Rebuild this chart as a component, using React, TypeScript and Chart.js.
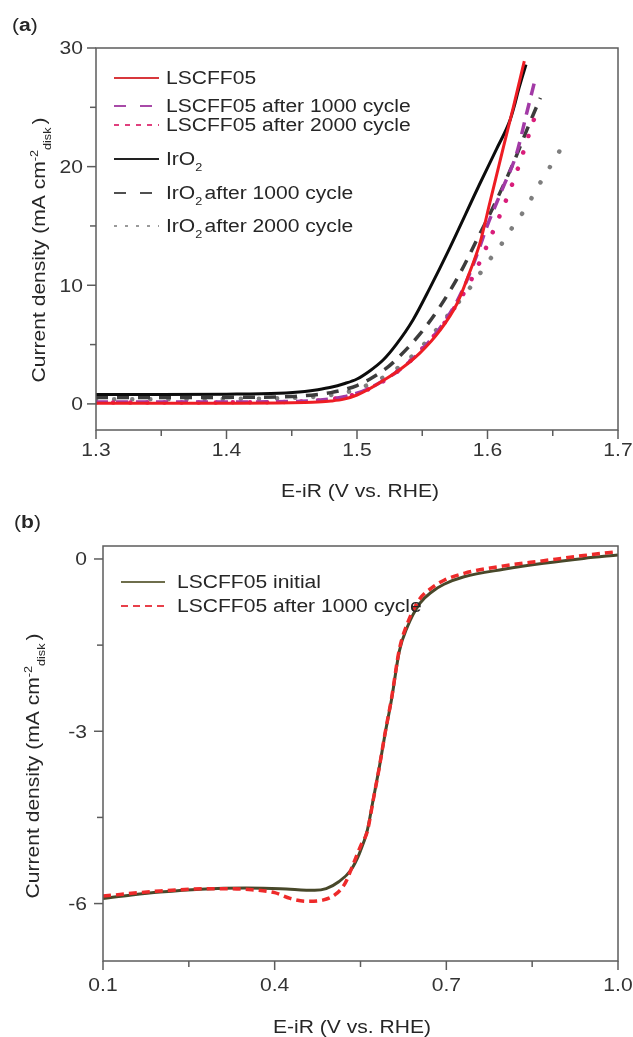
import React, { useEffect, useRef } from 'react';
import { Chart, registerables } from 'chart.js';

Chart.register(...registerables);

// ---------- Panel (a): OER polarization curves ----------
const lscffV = [1.3, 1.35, 1.4, 1.44, 1.46, 1.47, 1.48, 1.49, 1.5, 1.51, 1.5176, 1.533, 1.5483, 1.5636, 1.5764, 1.5853, 1.5943, 1.6019, 1.6121, 1.62, 1.6282];
const lscffJ = [0.05, 0.05, 0.06, 0.08, 0.12, 0.16, 0.24, 0.4, 0.75, 1.3, 1.8, 2.9, 4.3, 6.2, 8.4, 10.8, 13.6, 17.0, 21.6, 25.1, 28.9];

const lscff1000V = [1.3, 1.35, 1.4, 1.45, 1.47, 1.48, 1.49, 1.5, 1.51, 1.52, 1.533, 1.5483, 1.5636, 1.5764, 1.5853, 1.5943, 1.5994, 1.6121, 1.6223, 1.63, 1.6364];
const lscff1000J = [0.15, 0.15, 0.16, 0.2, 0.3, 0.42, 0.6, 0.9, 1.35, 1.95, 2.9, 4.4, 6.4, 8.6, 10.7, 13.3, 14.9, 18.3, 21.1, 24.5, 27.3];

const lscff2000V = [1.3, 1.35, 1.4, 1.45, 1.47, 1.48, 1.49, 1.5, 1.51, 1.52, 1.5406, 1.556, 1.5636, 1.5764, 1.5853, 1.593, 1.6045, 1.6147, 1.6241, 1.6326, 1.6375];
const lscff2000J = [0.12, 0.12, 0.13, 0.18, 0.28, 0.4, 0.58, 0.85, 1.3, 1.9, 3.6, 5.4, 6.3, 8.4, 10.0, 11.7, 14.6, 17.3, 20.1, 23.0, 24.6];

const iro2V = [1.3, 1.35, 1.4, 1.44, 1.46, 1.47, 1.48, 1.49, 1.5, 1.51, 1.52, 1.53, 1.543, 1.556, 1.57, 1.5943, 1.607, 1.6172, 1.621, 1.6236, 1.6295];
const iro2J = [0.8, 0.8, 0.82, 0.9, 1.05, 1.2, 1.4, 1.7, 2.1, 2.8, 3.7, 5.0, 7.1, 9.8, 12.9, 18.6, 21.5, 23.9, 25.3, 26.4, 28.6];

const iro21000V = [1.3, 1.35, 1.4, 1.45, 1.47, 1.48, 1.49, 1.5, 1.51, 1.52, 1.5278, 1.5483, 1.5636, 1.5789, 1.5917, 1.6044, 1.6198, 1.6313, 1.6405];
const iro21000J = [0.55, 0.55, 0.55, 0.62, 0.8, 0.95, 1.2, 1.55, 2.1, 2.8, 3.5, 5.9, 8.2, 11.0, 13.8, 16.6, 20.3, 23.4, 25.8];

const iro22000V = [1.3, 1.35, 1.4, 1.45, 1.47, 1.48, 1.49, 1.5, 1.51, 1.5227, 1.54, 1.556, 1.5713, 1.5853, 1.593, 1.6006, 1.6109, 1.6186, 1.6275, 1.6351, 1.6423, 1.6497, 1.6573];
const iro22000J = [0.4, 0.4, 0.42, 0.5, 0.62, 0.75, 0.95, 1.2, 1.7, 2.4, 3.8, 5.6, 7.7, 9.6, 10.8, 12.0, 13.5, 14.8, 16.2, 17.6, 19.0, 20.3, 21.7];

const xTickValuesA = [1.3, 1.35, 1.4, 1.45, 1.5, 1.55, 1.6, 1.65, 1.7];
const xTickLabelsA = ['1.3', '', '1.4', '', '1.5', '', '1.6', '', '1.7'];
const yTickValuesA = [0, 5, 10, 15, 20, 25, 30];
const yTickLabelsA = ['0', '', '10', '', '20', '', '30'];

// ---------- Panel (b): ORR curves ----------
const initialV = [0.1, 0.15, 0.2, 0.27, 0.35, 0.41, 0.47, 0.49, 0.512, 0.533, 0.548, 0.562, 0.572, 0.583, 0.593, 0.604, 0.618, 0.632, 0.654, 0.675, 0.696, 0.731, 0.8, 0.87, 0.94, 1.0];
const initialJ = [-5.91, -5.85, -5.8, -5.75, -5.73, -5.74, -5.77, -5.74, -5.62, -5.42, -5.13, -4.72, -4.2, -3.62, -3.04, -2.46, -1.6, -1.18, -0.77, -0.57, -0.44, -0.31, -0.18, -0.075, 0.01, 0.07];

const after1000V = [0.1, 0.2, 0.3, 0.36, 0.4, 0.427, 0.456, 0.484, 0.505, 0.523, 0.537, 0.551, 0.562, 0.572, 0.583, 0.593, 0.604, 0.618, 0.632, 0.654, 0.675, 0.696, 0.731, 0.8, 0.87, 0.94, 1.0];
const after1000J = [-5.87, -5.78, -5.74, -5.76, -5.81, -5.91, -5.96, -5.94, -5.85, -5.65, -5.32, -4.98, -4.74, -4.21, -3.62, -3.03, -2.44, -1.57, -1.12, -0.69, -0.5, -0.37, -0.25, -0.12, -0.03, 0.06, 0.13];

const xTickValuesB = [0.1, 0.25, 0.4, 0.55, 0.7, 0.85, 1.0];
const xTickLabelsB = ['0.1', '', '0.4', '', '0.7', '', '1.0'];
const yTickValuesB = [0, -1.5, -3, -4.5, -6];
const yTickLabelsB = ['0', '', '-3', '', '-6'];

// ---------- text helpers ----------
const FONT = '"Liberation Sans", Arial, Helvetica, sans-serif';
const FS = 18;
const SX = 1.17;
const TEXT = '#262626';
const AXIS = '#5c5c5c';

type Run = { t: string; s?: number; dy?: number; bold?: boolean };

function fontOf(r: Run) {
  return `${r.bold ? 'bold ' : ''}${FS * (r.s || 1)}px ${FONT}`;
}

// (x, y): anchor point; y is the cap-centre line of the main text
function drawRuns(ctx: CanvasRenderingContext2D, runs: Run[], x: number, y: number, align: 'left' | 'center' | 'right', rotate = false, color = TEXT) {
  ctx.save();
  ctx.translate(x, y);
  if (rotate) ctx.rotate(-Math.PI / 2);
  ctx.scale(SX, 1);
  ctx.fillStyle = color;
  ctx.textBaseline = 'alphabetic';
  ctx.textAlign = 'left';
  let total = 0;
  const widths = runs.map((r) => {
    ctx.font = fontOf(r);
    const w = ctx.measureText(r.t).width;
    total += w;
    return w;
  });
  let cx = align === 'left' ? 0 : align === 'center' ? -total / 2 : -total;
  const base = 0.36 * FS;
  runs.forEach((r, i) => {
    ctx.font = fontOf(r);
    ctx.fillText(r.t, cx, base + (r.dy || 0) * FS);
    cx += widths[i];
  });
  ctx.restore();
}

type LegendRow = { runs: Run[]; color: string; dash: number[]; width: number; y: number; cap?: CanvasLineCap };

type PanelCfg = {
  id: string;
  xTicks: number[];
  xLabels: string[];
  yTicks: number[];
  yLabels: string[];
  xLabelY: number;
  yLabelRight: number;
  xTitle: { x: number; y: number };
  yTitle: { x: number; y: number };
  panel: { x: number; y: number; letter: string };
  legend: { x0: number; x1: number; tx: number; rows: LegendRow[] };
};

const Y_TITLE: Run[] = [
  { t: 'Current density (mA cm' },
  { t: '-2', s: 0.6, dy: -0.42 },
  { t: 'disk', s: 0.6, dy: 0.3 },
  { t: ' ', s: 0.5 },
  { t: ')' },
];
const X_TITLE: Run[] = [{ t: 'E-iR (V vs. RHE)' }];

function makePlugin(cfg: PanelCfg) {
  return {
    id: cfg.id,
    afterDraw(chart: any) {
      const ctx: CanvasRenderingContext2D = chart.ctx;
      const { left, right, top, bottom } = chart.chartArea;
      const xs = chart.scales.x;
      const ys = chart.scales.y;
      ctx.save();
      ctx.strokeStyle = AXIS;
      ctx.lineWidth = 1.5;
      ctx.setLineDash([]);
      ctx.strokeRect(left, top, right - left, bottom - top);
      cfg.xTicks.forEach((v, i) => {
        const px = xs.getPixelForValue(v);
        const major = cfg.xLabels[i] !== '';
        ctx.beginPath();
        ctx.moveTo(px, bottom);
        ctx.lineTo(px, bottom + (major ? 9 : 6));
        ctx.stroke();
        if (major) drawRuns(ctx, [{ t: cfg.xLabels[i] }], px, cfg.xLabelY, 'center', false, '#333');
      });
      cfg.yTicks.forEach((v, i) => {
        const py = ys.getPixelForValue(v);
        const major = cfg.yLabels[i] !== '';
        ctx.beginPath();
        ctx.moveTo(left, py);
        ctx.lineTo(left - (major ? 9 : 6), py);
        ctx.stroke();
        if (major) drawRuns(ctx, [{ t: cfg.yLabels[i] }], cfg.yLabelRight, py, 'right', false, '#333');
      });
      drawRuns(ctx, X_TITLE, cfg.xTitle.x, cfg.xTitle.y, 'center');
      drawRuns(ctx, Y_TITLE, cfg.yTitle.x, cfg.yTitle.y, 'center', true);
      drawRuns(ctx, [{ t: '(' }, { t: cfg.panel.letter, bold: true }, { t: ')' }], cfg.panel.x, cfg.panel.y, 'left');
      // legend
      cfg.legend.rows.forEach((row) => {
        ctx.beginPath();
        ctx.strokeStyle = row.color;
        ctx.lineWidth = row.width;
        ctx.lineCap = row.cap || 'butt';
        ctx.setLineDash(row.dash);
        ctx.moveTo(cfg.legend.x0, row.y);
        ctx.lineTo(cfg.legend.x1, row.y);
        ctx.stroke();
        ctx.setLineDash([]);
        drawRuns(ctx, row.runs, cfg.legend.tx, row.y, 'left');
      });
      ctx.restore();
    },
  };
}

function pts(xs: number[], ys: number[]) {
  return xs.map((x, i) => ({ x, y: ys[i] }));
}

function scaleOpts(min: number, max: number, size: number, horizontal: boolean, tickValues: number[]) {
  return {
    type: 'linear' as const,
    min,
    max,
    grid: { display: false, drawTicks: false },
    border: { display: false },
    ticks: { display: false },
    afterBuildTicks: (s: any) => {
      s.ticks = tickValues.map((v) => ({ value: v }));
    },
    afterFit: (s: any) => {
      if (horizontal) s.height = size;
      else s.width = size;
    },
  };
}

function line(data: { x: number; y: number }[], color: string, width: number, dash: number[], order: number, cap: CanvasLineCap = 'butt') {
  return {
    data,
    borderColor: color,
    backgroundColor: color,
    borderWidth: width,
    borderDash: dash,
    borderCapStyle: cap,
    pointRadius: 0,
    fill: false,
    cubicInterpolationMode: 'monotone' as const,
    order,
  };
}

const commonOptions = {
  responsive: false,
  animation: false as const,
  events: [] as any[],
  plugins: { legend: { display: false }, tooltip: { enabled: false } },
};

export default function App() {
  const refA = useRef<HTMLCanvasElement>(null);
  const refB = useRef<HTMLCanvasElement>(null);

  useEffect(() => {
    const cfgA: PanelCfg = {
      id: 'panelA',
      xTicks: xTickValuesA,
      xLabels: xTickLabelsA,
      yTicks: yTickValuesA,
      yLabels: yTickLabelsA,
      xLabelY: 450,
      yLabelRight: 83,
      xTitle: { x: 360, y: 491 },
      yTitle: { x: 39, y: 250 },
      panel: { x: 12, y: 25, letter: 'a' },
      legend: {
        x0: 114,
        x1: 159,
        tx: 166,
        rows: [
          { runs: [{ t: 'LSCFF05' }], color: '#d8383c', dash: [], width: 2, y: 78 },
          { runs: [{ t: 'LSCFF05 after 1000 cycle' }], color: '#a84aa8', dash: [12, 14], width: 2, y: 106 },
          { runs: [{ t: 'LSCFF05 after 2000 cycle' }], color: '#e0407e', dash: [5, 6], width: 2, y: 125 },
          { runs: [{ t: 'IrO' }, { t: '2', s: 0.6, dy: 0.3 }], color: '#222222', dash: [], width: 2, y: 159 },
          { runs: [{ t: 'IrO' }, { t: '2', s: 0.6, dy: 0.3 }, { t: ' ', s: 0.4 }, { t: 'after 1000 cycle' }], color: '#505050', dash: [12, 14], width: 2, y: 193 },
          { runs: [{ t: 'IrO' }, { t: '2', s: 0.6, dy: 0.3 }, { t: ' ', s: 0.4 }, { t: 'after 2000 cycle' }], color: '#9a9a9a', dash: [3, 8], width: 2, y: 226 },
        ],
      },
    };

    const cfgB: PanelCfg = {
      id: 'panelB',
      xTicks: xTickValuesB,
      xLabels: xTickLabelsB,
      yTicks: yTickValuesB,
      yLabels: yTickLabelsB,
      xLabelY: 480,
      yLabelRight: 87,
      xTitle: { x: 352, y: 522 },
      yTitle: { x: 33, y: 261 },
      panel: { x: 14, y: 17, letter: 'b' },
      legend: {
        x0: 121,
        x1: 165,
        tx: 177,
        rows: [
          { runs: [{ t: 'LSCFF05 initial' }], color: '#6e6e4c', dash: [], width: 2, y: 77 },
          { runs: [{ t: 'LSCFF05 after 1000 cycle' }], color: '#e8404a', dash: [7, 5], width: 2, y: 101 },
        ],
      },
    };

    const chartA = new Chart(refA.current as HTMLCanvasElement, {
      type: 'line',
      data: {
        datasets: [
          line(pts(lscffV, lscffJ), '#ee1d24', 3, [], 0),
          line(pts(iro2V, iro2J), '#0c0c0c', 3, [], 1),
          line(pts(lscff1000V, lscff1000J), '#a23aa6', 3.5, [12, 8], 2),
          line(pts(lscff2000V, lscff2000J), '#d81d7a', 4.5, [0.1, 17], 3, 'round'),
          line(pts(iro21000V, iro21000J), '#3c3c3c', 3.5, [12, 9], 4),
          line(pts(iro22000V, iro22000J), '#7e7e7e', 4.5, [0.1, 18], 5, 'round'),
        ] as any,
      },
      options: {
        ...commonOptions,
        layout: { padding: { left: 0, right: 15, top: 48, bottom: 0 } },
        scales: {
          x: scaleOpts(1.3, 1.7, 75, true, xTickValuesA),
          y: scaleOpts(-2.2, 30, 96, false, yTickValuesA),
        },
      } as any,
      plugins: [makePlugin(cfgA)],
    });

    const chartB = new Chart(refB.current as HTMLCanvasElement, {
      type: 'line',
      data: {
        datasets: [
          line(pts(after1000V, after1000J), '#ee2a2a', 3.5, [8, 5], 0),
          line(pts(initialV, initialJ), '#48482a', 3, [], 1),
        ] as any,
      },
      options: {
        ...commonOptions,
        layout: { padding: { left: 0, right: 15, top: 41, bottom: 0 } },
        scales: {
          x: scaleOpts(0.1, 1.0, 76, true, xTickValuesB),
          y: scaleOpts(-7, 0.226, 103, false, yTickValuesB),
        },
      } as any,
      plugins: [makePlugin(cfgB)],
    });

    return () => {
      chartA.destroy();
      chartB.destroy();
    };
  }, []);

  return (
    <div style={{ position: 'absolute', left: 0, top: 0, width: 633, height: 1037, background: '#ffffff' }}>
      <canvas ref={refA} width={633} height={505} style={{ position: 'absolute', left: 0, top: 0, width: 633, height: 505 }} />
      <canvas ref={refB} width={633} height={532} style={{ position: 'absolute', left: 0, top: 505, width: 633, height: 532 }} />
    </div>
  );
}
